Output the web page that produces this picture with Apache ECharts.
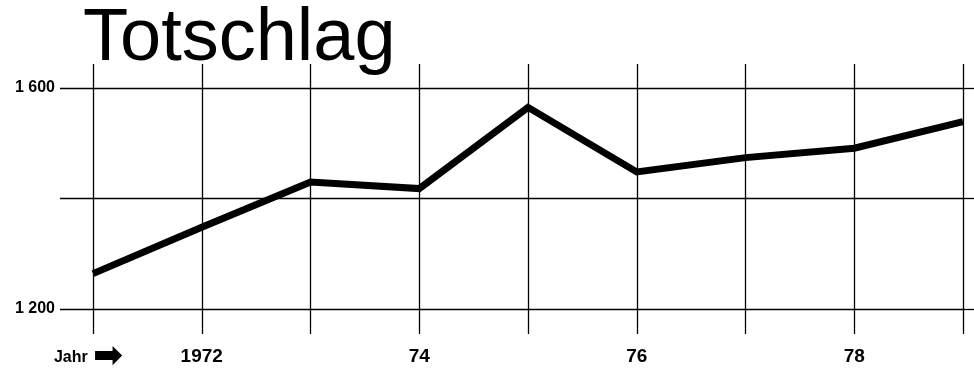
<!DOCTYPE html>
<html>
<head>
<meta charset="utf-8">
<script src="https://cdn.jsdelivr.net/npm/echarts@6/dist/echarts.min.js"></script>
<style>
  html, body { margin: 0; padding: 0; background: #fff; }
  #chart { width: 974px; height: 371px; }
</style>
</head>
<body>
<div id="chart"></div>
<script>
// Totschlag, Fälle je Jahr 1971-1979
const years = ['1971', '1972', '1973', '1974', '1975', '1976', '1977', '1978', '1979'];
const cases = [1264, 1348, 1430, 1418, 1565, 1448, 1474, 1491, 1539];
const yearLabels = ['Jahr', '1972', '', '74', '', '76', '', '78', ''];
const yLabels = { 1200: '1 200', 1600: '1 600' };
const yTicks = { min: 1200, max: 1600, interval: 200 };

const ink = '#000';
const chart = echarts.init(document.getElementById('chart'));

const gridLine = { show: true, lineStyle: { color: ink, width: 1.3 } };

chart.setOption({
  backgroundColor: '#fff',
  animation: false,
  title: {
    text: 'Totschlag',
    left: 78,
    top: -2,
    textStyle: {
      fontFamily: 'Liberation Sans',
      fontSize: 74,
      fontWeight: 'normal',
      color: ink
    }
  },
  grid: { left: 93, right: 11, top: 88, bottom: 62, outerBoundsMode: 'none' },
  xAxis: [
    {
      type: 'category',
      data: years,
      boundaryGap: false,
      axisLine: { show: false },
      axisTick: { show: true, length: 25, lineStyle: { color: ink, width: 1.3 } },
      splitLine: gridLine,
      axisLabel: {
        margin: 38,
        interval: 0,
        formatter: (v, i) => i === 0 ? '{j|' + yearLabels[0] + '} {a|➡}' : yearLabels[i],
        fontFamily: 'Liberation Sans',
        fontWeight: 'bold',
        fontSize: 19,
        color: ink,
        rich: {
          j: { fontFamily: 'Liberation Sans', fontWeight: 'bold', fontSize: 16, color: ink,
               lineHeight: 22, verticalAlign: 'middle' },
          a: { fontFamily: 'DejaVu Sans', fontSize: 36, color: ink, padding: [0, 9, 0, 0],
               lineHeight: 22, verticalAlign: 'middle' }
        }
      }
    },
    {
      type: 'category',
      data: years,
      position: 'top',
      boundaryGap: false,
      axisLine: { show: false },
      axisTick: { show: true, length: 24, lineStyle: { color: ink, width: 1.3 } },
      axisLabel: { show: false },
      splitLine: { show: false }
    }
  ],
  yAxis: [
    {
      type: 'value',
      ...yTicks,
      axisLine: { show: false },
      axisTick: { show: true, length: 33, lineStyle: { color: ink, width: 1.3 } },
      splitLine: gridLine,
      axisLabel: {
        margin: 38,
        formatter: v => yLabels[v] || '',
        fontFamily: 'Liberation Sans',
        fontWeight: 'bold',
        fontSize: 16,
        color: ink
      }
    },
    {
      type: 'value',
      position: 'right',
      ...yTicks,
      axisLine: { show: false },
      axisTick: { show: true, length: 11, lineStyle: { color: ink, width: 1.3 } },
      axisLabel: { show: false },
      splitLine: { show: false }
    }
  ],
  series: [
    {
      type: 'line',
      data: cases,
      showSymbol: false,
      lineStyle: { color: ink, width: 7, join: 'miter', cap: 'butt' }
    }
  ]
});
</script>
</body>
</html>
